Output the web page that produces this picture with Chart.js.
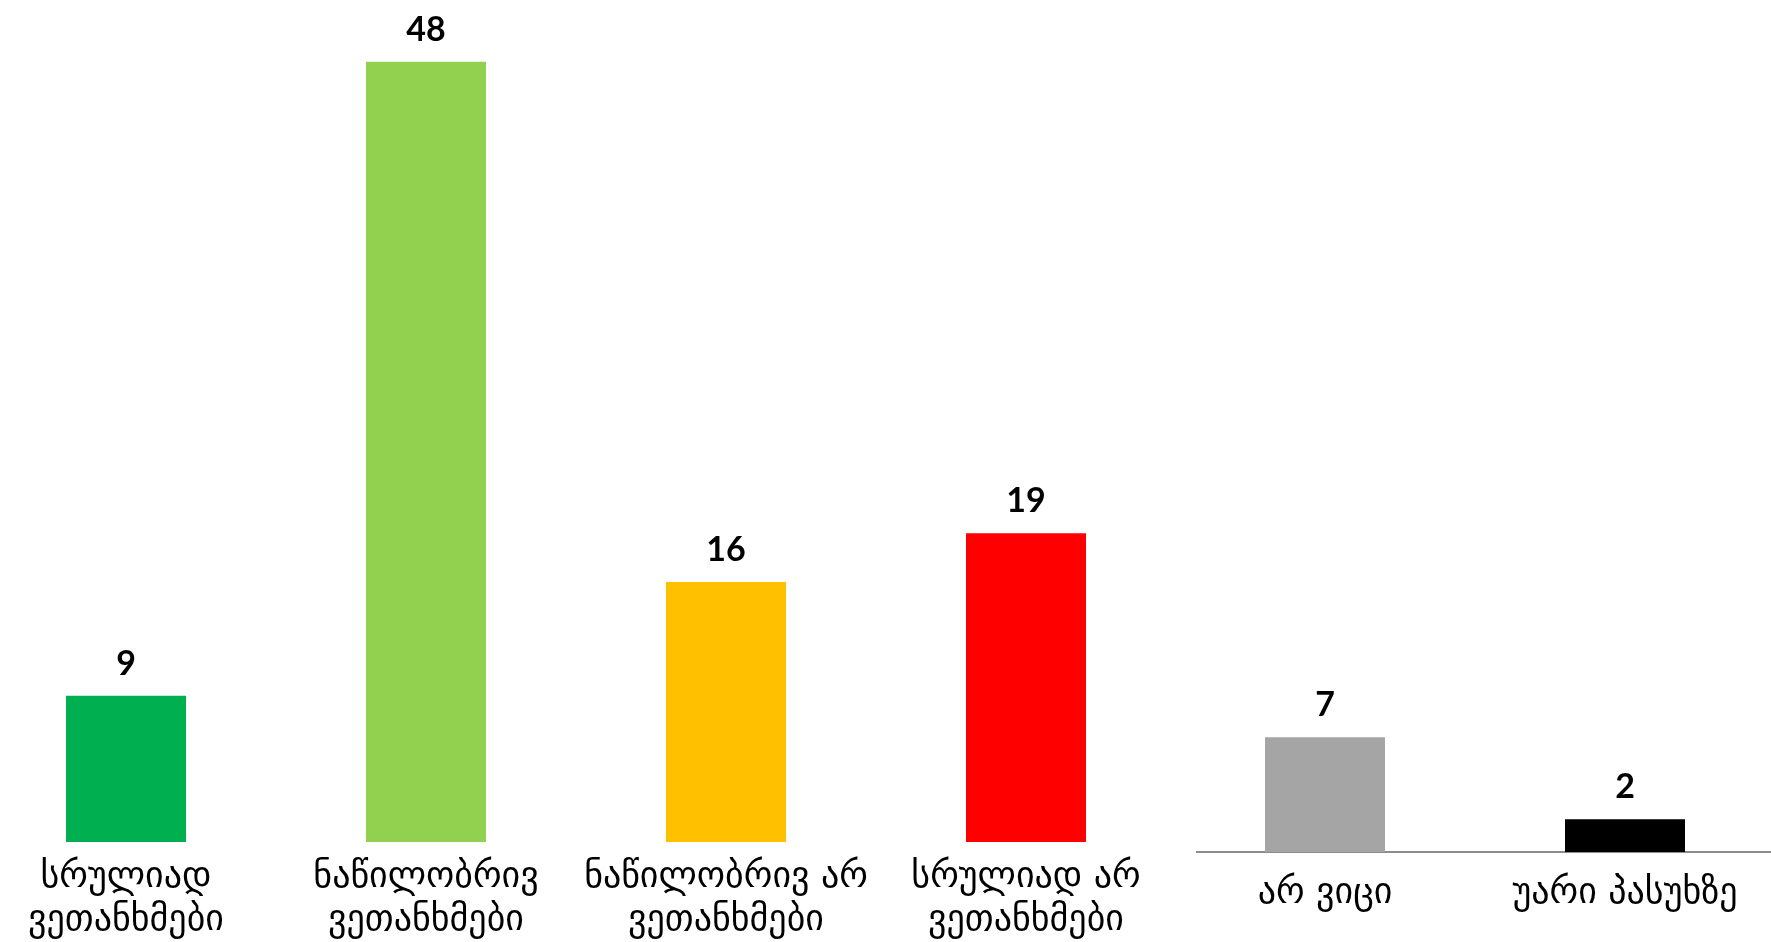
<!DOCTYPE html>
<html>
<head>
<meta charset="utf-8">
<script src="https://cdn.jsdelivr.net/npm/chart.js@4"></script>
<style>
    html, body { margin: 0; padding: 0; background: #fff; overflow: hidden; width: 1771px; height: 942px; }
    #leftBox { position: absolute; left: -24px; top: 0; width: 1220px; height: 942px; background: #fff; z-index: 2; }
    #rightBox { position: absolute; left: 1175px; top: 0; width: 600px; height: 942px; z-index: 1; }
</style>
</head>
<body>
<div id="leftBox"><canvas id="agreeChart"></canvas></div>
<div id="rightBox"><canvas id="otherChart"></canvas></div>
<script>
const agreeLabels = [['სრულიად', 'ვეთანხმები'], ['ნაწილობრივ', 'ვეთანხმები'], ['ნაწილობრივ არ', 'ვეთანხმები'], ['სრულიად არ', 'ვეთანხმები']];
const agreeValues = [9, 48, 16, 19];
const agreeColors = ['#00B050', '#92D050', '#FFC000', '#FF0000'];

const otherLabels = ['არ ვიცი', 'უარი პასუხზე'];
const otherValues = [7, 2];
const otherColors = ['#A5A5A5', '#000000'];

// numbers above the bars
const valueLabels = {
    id: 'valueLabels',
    afterDatasetsDraw(chart) {
        let ctx = chart.ctx
        let meta = chart.getDatasetMeta(0)
        ctx.save()
        ctx.font = 'bold 34px Lato'
        ctx.fillStyle = '#000'
        ctx.textAlign = 'center'
        ctx.textBaseline = 'alphabetic'
        meta.data.forEach((bar, i) => {
            ctx.fillText(chart.data.datasets[0].data[i], bar.x, bar.y - 21)
        })
        ctx.restore()
    }
};

function barChart(id, labels = [], values = [], colors = [], yMax = 50, axisHeight = 100, padding = 13, showLine = false, padRight = 0) {
    const data = {
        labels: labels,
        datasets: [{
                data: values,
                backgroundColor: colors,
                categoryPercentage: 1,
                barPercentage: 0.4
            }]
    };

    const config = {
        type: 'bar',
        data: data,
        options: {
            responsive: true,
            maintainAspectRatio: false,
            animation: false,
            layout: { padding: { top: 0, left: 0, right: padRight, bottom: 0 } },
            plugins: {
                legend: { display: false },
                tooltip: { enabled: false }
            },
            scales: {
                x: {
                    offset: true,
                    grid: { display: false, drawTicks: false },
                    border: { display: showLine, color: '#8C8C8C', width: 2 },
                    ticks: {
                        color: '#000',
                        padding: padding,
                        maxRotation: 0,
                        autoSkip: false,
                        font: { family: 'DejaVu Sans', size: 36, lineHeight: '43px' }
                    },
                    afterFit(scale) {
                        scale.height = axisHeight
                    }
                },
                y: {
                    display: false,
                    min: 0,
                    max: yMax
                }
            }
        },
        plugins: [valueLabels]
    };

    let ctx = document.getElementById(id).getContext("2d")

    new Chart(ctx, config)
}

barChart('agreeChart', agreeLabels, agreeValues, agreeColors, 51.8, 100, 14, false, 20)
barChart('otherChart', otherLabels, otherValues, otherColors, 52, 90, 20, true, 0)
</script>
</body>
</html>
